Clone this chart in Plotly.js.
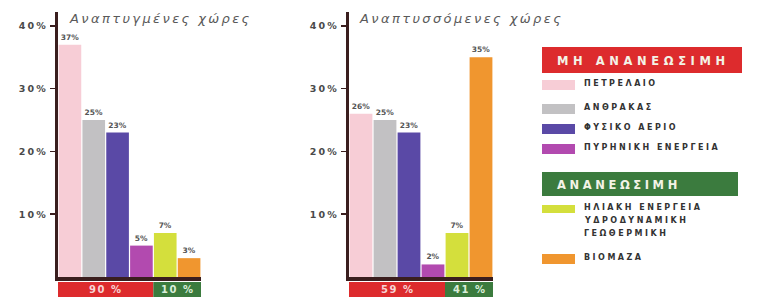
<!DOCTYPE html>
<html>
<head>
<meta charset="utf-8">
<script src="https://cdn.plot.ly/plotly-3.0.1.min.js"></script>
<style>html,body{margin:0;padding:0;background:#fff;}</style>
</head>
<body>
<div id="chart" style="width:763px;height:298px;"></div>
<script>
// ---- data ----
const categories = ['ΠΕΤΡΕΛΑΙΟ', 'ΑΝΘΡΑΚΑΣ', 'ΦΥΣΙΚΟ ΑΕΡΙΟ', 'ΠΥΡΗΝΙΚΗ ΕΝΕΡΓΕΙΑ',
                    'ΗΛΙΑΚΗ ΕΝΕΡΓΕΙΑ<br>ΥΔΡΟΔΥΝΑΜΙΚΗ<br>ΓΕΩΘΕΡΜΙΚΗ', 'ΒΙΟΜΑΖΑ'];
const groupNames = ['ΜΗ ΑΝΑΝΕΩΣΙΜΗ', 'ΑΝΑΝΕΩΣΙΜΗ'];
const groupOf = [0, 0, 0, 0, 1, 1];
const developed = [37, 25, 23, 5, 7, 3];
const developing = [26, 25, 23, 2, 7, 35];
const developedShare = [90, 10];
const developingShare = [59, 41];
const chartTitles = ['Αναπτυγμένες χώρες', 'Αναπτυσσόμενες χώρες'];
const tickVals = [10, 20, 30, 40];
const tickLabels = ['10%', '20%', '30%', '40%'];

// ---- styles ----
const barColors = ['#f7cdd6', '#c2c1c3', '#5a49a6', '#b24aaf', '#d4df3c', '#f0962f'];
const groupColors = ['#dd2b2d', '#3b7b3e'];
const groupTextColors = ['#f6d4d4', '#d9eed9'];
const axisColor = '#3a1e1e';
const W = 763, H = 298;
const px = x => x / W;
const py = y => 1 - y / H;
const sp = (t, s) => '<span style="letter-spacing:' + s + 'px">' + t + '</span>';

const xIdx = categories.map((c, i) => i);
const traces = [
  {x: xIdx, y: developed, xaxis: 'x', yaxis: 'y'},
  {x: xIdx, y: developing, xaxis: 'x2', yaxis: 'y2'}
].map(t => Object.assign(t, {
  type: 'bar',
  marker: {color: barColors},
  texttemplate: '%{y}%',
  textposition: 'outside',
  cliponaxis: false,
  textfont: {family: 'DejaVu Sans', size: 7.5, color: '#555', weight: 'bold'},
  hoverinfo: 'skip',
  showlegend: false
}));

const yBase = {
  range: [0, 42.2], tickvals: tickVals, ticktext: tickLabels.map(t => sp(t, 2.2)),
  ticks: 'outside', ticklen: 5, tickwidth: 1.5, tickcolor: axisColor,
  showline: true, linewidth: 3, linecolor: axisColor, showgrid: false, zeroline: false,
  tickfont: {family: 'DejaVu Sans', size: 9.5, color: '#4a4a4a', weight: 'bold'}
};
const xBase = {
  range: [-0.5, 5.5], showticklabels: false, ticks: '', showgrid: false, zeroline: false,
  showline: true, linewidth: 4, linecolor: axisColor
};

const shapes = [];
const annotations = [];
[['x', developedShare], ['x2', developingShare]].forEach(([xr, shares]) => {
  groupNames.forEach((g, gi) => {
    const idx = groupOf.map((v, i) => v === gi ? i : -1).filter(i => i >= 0);
    const x0 = Math.min(...idx) - 0.5, x1 = Math.max(...idx) + 0.5;
    shapes.push({type: 'rect', xref: xr, yref: 'paper', x0: x0, x1: x1,
      y0: py(297), y1: py(282), fillcolor: groupColors[gi], line: {width: 0}, layer: 'below'});
    annotations.push({xref: xr, yref: 'paper', x: (x0 + x1) / 2, y: py(289.5),
      xanchor: 'center', yanchor: 'middle',
      text: sp(shares[gi] + ' %', 1.5), showarrow: false,
      font: {family: 'DejaVu Sans', size: 10, color: groupTextColors[gi], weight: 'bold'}});
  });
});

// chart titles
[67, 357].forEach((x, i) => {
  annotations.push({xref: 'paper', yref: 'paper', x: px(x), y: py(18), xanchor: 'left', yanchor: 'middle',
    text: sp(chartTitles[i], 2.4), showarrow: false,
    font: {family: 'DejaVu Sans', size: 13, color: '#5a5a5a', style: 'italic'}});
});

// legend
const headerBoxes = [{y0: 47, y1: 73, x1: 742}, {y0: 172, y1: 196, x1: 738}];
headerBoxes.forEach((b, gi) => {
  shapes.push({type: 'rect', xref: 'paper', yref: 'paper', x0: px(542), x1: px(b.x1),
    y0: py(b.y1), y1: py(b.y0), fillcolor: groupColors[gi], line: {width: 0}});
  annotations.push({xref: 'paper', yref: 'paper', x: px(555), y: py((b.y0 + b.y1) / 2 + 1),
    xanchor: 'left', yanchor: 'middle', showarrow: false,
    text: sp(groupNames[gi], gi === 0 ? 4.6 : 3.6),
    font: {family: 'DejaVu Sans', size: 11.5, color: '#f3f3e6', weight: 'bold'}});
});
const rowY = [85, 109, 129, 149, 209, 259];
categories.forEach((c, i) => {
  const h = i === 4 ? 8 : 10;
  shapes.push({type: 'rect', xref: 'paper', yref: 'paper', x0: px(542), x1: px(575),
    y0: py(rowY[i] + h / 2), y1: py(rowY[i] - h / 2), fillcolor: barColors[i], line: {width: 0}});
  c.split('<br>').forEach((line, li) => {
    annotations.push({xref: 'paper', yref: 'paper', x: px(582), y: py(rowY[i] - 2 + li * 13),
      xanchor: 'left', yanchor: 'middle', showarrow: false, text: sp(line, 2.5),
      font: {family: 'DejaVu Sans', size: 8, color: '#333', weight: 'bold'}});
  });
});

const yDom = [1 - 277 / H, 1 - 12 / H];
const layout = {
  width: W, height: H,
  margin: {l: 0, r: 0, t: 0, b: 0},
  paper_bgcolor: '#ffffff', plot_bgcolor: 'rgba(0,0,0,0)',
  bargap: 0.05,
  xaxis: Object.assign({}, xBase, {domain: [px(58), px(201)], anchor: 'y'}),
  yaxis: Object.assign({}, yBase, {domain: yDom, anchor: 'x'}),
  xaxis2: Object.assign({}, xBase, {domain: [px(349), px(493)], anchor: 'y2'}),
  yaxis2: Object.assign({}, yBase, {domain: yDom, anchor: 'x2'}),
  shapes: shapes,
  annotations: annotations,
  showlegend: false
};

Plotly.newPlot('chart', traces, layout, {displayModeBar: false, staticPlot: true});
</script>
</body>
</html>
